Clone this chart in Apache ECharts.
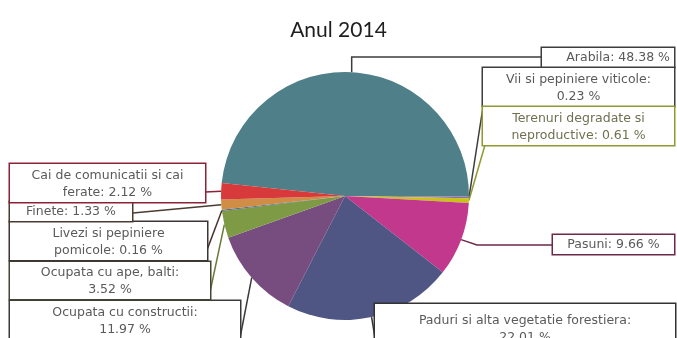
<!DOCTYPE html>
<html><head><meta charset="utf-8">
<script src="https://cdn.jsdelivr.net/npm/echarts@6/dist/echarts.min.js"></script>
<style>html,body{margin:0;padding:0;background:#fff}#c{width:677px;height:338px}</style>
</head><body><div id="c"></div>
<script>
const title = 'Anul 2014';
const categories = ['Arabila','Vii si pepiniere viticole','Terenuri degradate si neproductive','Pasuni','Paduri si alta vegetatie forestiera','Ocupata cu constructii','Ocupata cu ape, balti','Livezi si pepiniere pomicole','Finete','Cai de comunicatii si cai ferate'];
const values = [48.38, 0.23, 0.61, 9.66, 22.01, 11.97, 3.52, 0.16, 1.33, 2.12];
const firstLineWords = [99, 4, 3, 99, 5, 3, 4, 3, 99, 5];
const sliceColors = ['#4f7f88','#8a6ea8','#c9c21a','#c2388c','#4f5684','#774d80','#7e9a44','#4a6a9a','#cf8d45','#d83a3c'];
const borderColors = ['#3d3d3d','#3d3d3d','#8f9a2e','#6b2a48','#333333','#3a3a3a','#454535','#3d3535','#4a3c30','#8b2236'];
const lineColors = ['#3d3d3d','#3d3d3d','#8f9a2e','#6b2a48','#333333','#3a3a3a','#6b7a3a','#4a3030','#4a3c30','#8b2236'];

// label boxes: left, top, width, top padding
const boxes = [
  [542, 48, 132, 2],
  [483, 68, 191, 3],
  [483, 107, 191, 3],
  [553, 235, 121, 2],
  [375, 304, 300, 8],
  [10, 301, 230, 3],
  [10, 262, 200, 2],
  [10, 222, 197, 3],
  [10, 202, 122, 2],
  [10, 164, 195, 3]
];
const guides = [
  [[null,57],[542,57]],
  [[483,107]],
  [[485,145]],
  [[477,245],[553,245]],
  [[375,338]],
  [[240,338]],
  [[210,292]],
  [[207,250]],
  [[133,213]],
  [[205,192]]
];

function labelText(i){
  const words = (categories[i] + ': ' + values[i].toFixed(2) + ' %').split(' ');
  const n = firstLineWords[i];
  if (n >= words.length) return words.join(' ');
  return words.slice(0,n).join(' ') + '\n' + words.slice(n).join(' ');
}

const data = categories.map((c,i)=>{
  const b = boxes[i];
  const twoLine = firstLineWords[i] < 50;
  return {
    name: c, value: values[i],
    itemStyle: {color: sliceColors[i]},
    label: {
      formatter: labelText(i),
      width: b[2]-8,
      padding: [b[3],4,1,4],
      lineHeight: twoLine ? 17 : 16,
      align: i===0 ? 'right' : 'center',
      borderColor: borderColors[i],
      borderWidth: 1.5,
      backgroundColor: '#fff',
      color: i===2 ? '#6f7050' : '#5a5a5a',
      fontSize: 12.5,
      fontFamily: 'DejaVu Sans'
    },
    labelLine: {lineStyle: {color: lineColors[i], width: 1.5}}
  };
});

const chart = echarts.init(document.getElementById('c'), null, {renderer:'canvas'});
chart.setOption({
  animation: false,
  backgroundColor: '#fff',
  title: {text: title, left: 'center', top: 15, textStyle: {fontFamily: 'Lato', fontSize: 21, fontWeight: 'normal', color: '#1e1e1e'}},
  series: [{
    type: 'pie',
    center: [345, 196],
    radius: 124,
    startAngle: 174,
    clockwise: true,
    avoidLabelOverlap: false,
    minShowLabelAngle: 0,
    data: data,
    label: {show: true, position: 'outside'},
    labelLine: {show: true, length: 5, length2: 5, smooth: false},
    labelLayout: function(params){
      const i = params.dataIndex;
      const b = boxes[i];
      const p0 = params.labelLinePoints ? params.labelLinePoints[0] : [345,196];
      const pts = [p0].concat(guides[i].map(g => [g[0]===null ? p0[0] : g[0], g[1]]));
      if (pts.length === 2) pts.splice(1, 0, [p0[0], p0[1]]);
      return {
        x: i===0 ? b[0]+b[2] : b[0]+b[2]/2,
        y: b[1],
        align: i===0 ? 'right' : 'center',
        verticalAlign: 'top',
        labelLinePoints: pts
      };
    }
  }]
});
</script></body></html>
